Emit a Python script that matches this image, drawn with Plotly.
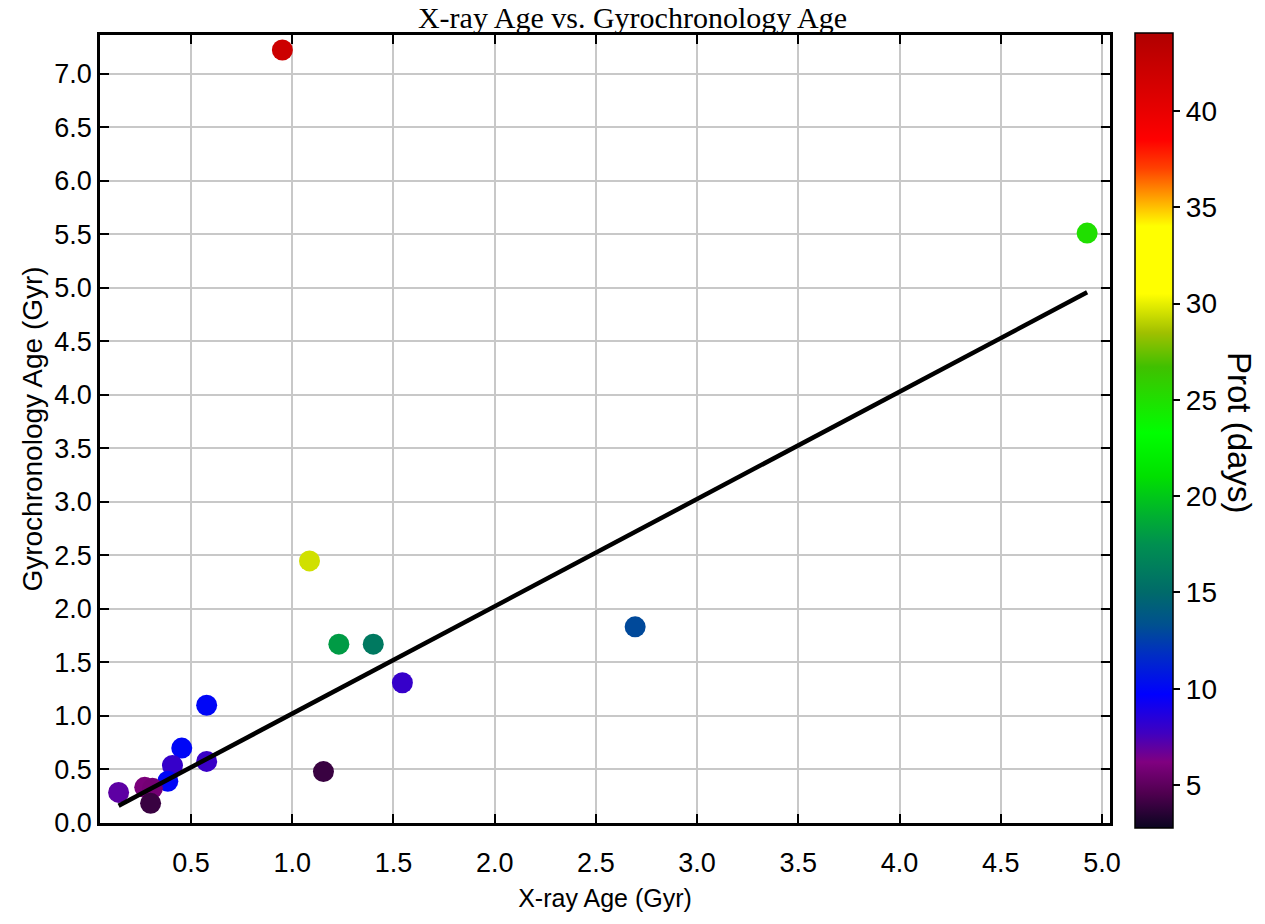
import plotly.graph_objects as go

xray_age = [0.951, 4.927, 1.085, 1.23, 1.40, 2.694, 1.544, 0.577, 1.154, 0.454,
            0.577, 0.408, 0.385, 0.142, 0.271, 0.309, 0.30]
gyro_age = [7.22, 5.51, 2.448, 1.67, 1.67, 1.832, 1.31, 1.10, 0.48, 0.70,
            0.575, 0.538, 0.39, 0.286, 0.333, 0.324, 0.184]
prot = [42.0, 25.0, 29.5, 18.0, 16.0, 13.0, 8.0, 10.0, 4.0, 10.0,
        7.9, 8.0, 10.0, 7.0, 6.0, 5.8, 4.0]

line_x = [min(xray_age), max(xray_age)]
line_y = [min(xray_age) + 0.02, max(xray_age) + 0.03]

y_ticks = [i * 0.5 for i in range(15)]
x_ticks = [0.5 * i for i in range(1, 11)]
cb_ticks = [5, 10, 15, 20, 25, 30, 35, 40]

cmin, cmax = 2.77, 44.05
colorscale = [
    [0.0, "#0a0520"], [0.044, "#500050"], [0.083, "#800080"], [0.119, "#4000c0"],
    [0.168, "#0000ff"], [0.221, "#0030c0"], [0.255, "#005090"], [0.296, "#006a6a"],
    [0.357, "#009050"], [0.393, "#00b030"], [0.442, "#00e000"], [0.497, "#00ff00"],
    [0.58, "#40c000"], [0.623, "#a0c000"], [0.672, "#ffff00"], [0.757, "#ffff00"],
    [0.793, "#ffa000"], [0.83, "#ff4000"], [0.866, "#ff0000"], [0.902, "#e80000"],
    [1.0, "#b00000"],
]

X_RANGE = [0.05, 5.04]
Y_RANGE = [0.0, 7.36]

# plot area in pixels: x 100..1110, y 35..823
PW, PH = 1010, 788

fig = go.Figure()
fig.add_trace(go.Scatter(
    x=line_x, y=line_y, mode="lines", xaxis="x2",
    line=dict(color="black", width=4.5), showlegend=False, hoverinfo="skip",
))
fig.add_trace(go.Scatter(
    x=xray_age, y=gyro_age, mode="markers", showlegend=False,
    marker=dict(
        size=21, color=prot, colorscale=colorscale, cmin=cmin, cmax=cmax,
        line=dict(width=0), opacity=1,
        colorbar=dict(
            xref="paper", x=(1135 - 100) / PW, xanchor="left", xpad=0,
            yref="paper", y=(823 - 828) / PH, yanchor="bottom", ypad=0,
            thickness=38, thicknessmode="pixels",
            len=795 / PH, lenmode="fraction",
            outlinewidth=1.5, outlinecolor="black",
            tickvals=cb_ticks, ticks="outside", ticklen=7, tickwidth=2, tickcolor="black",
            tickfont=dict(family="Liberation Sans", size=28, color="black"),
            title=dict(text=""),
        ),
    ),
))

fig.update_layout(
    width=1265, height=924,
    margin=dict(l=100, r=155, t=35, b=101),
    paper_bgcolor="white", plot_bgcolor="white",
    title=dict(text="X-ray Age vs. Gyrochronology Age", x=0.5, xref="container",
               xanchor="center", y=1 - 17 / 924, yanchor="middle",
               font=dict(family="Liberation Serif", size=30, color="black")),
    xaxis=dict(
        range=X_RANGE, tickvals=x_ticks, tickformat=".1f",
        showgrid=True, gridcolor="#c8c8c8", gridwidth=2,
        showline=False, zeroline=False,
        ticks="outside", ticklen=16, tickcolor="rgba(0,0,0,0)",
        tickfont=dict(family="Liberation Sans", size=27, color="black"),
        title=dict(text="X-ray Age (Gyr)", standoff=12,
                   font=dict(family="Liberation Sans", size=25, color="black")),
    ),
    xaxis2=dict(
        range=X_RANGE, tickvals=x_ticks, overlaying="x", anchor="y", side="bottom",
        showgrid=False, zeroline=False, showticklabels=False,
        showline=True, linecolor="black", linewidth=2.5, mirror="ticks",
        ticks="inside", ticklen=9, tickwidth=2, tickcolor="black",
    ),
    yaxis=dict(
        range=Y_RANGE, tickvals=y_ticks, tickformat=".1f",
        showgrid=True, gridcolor="#c8c8c8", gridwidth=2,
        showline=True, linecolor="black", linewidth=2.5, mirror="ticks",
        ticks="inside", ticklen=9, tickwidth=2, tickcolor="black",
        zeroline=False,
        tickfont=dict(family="Liberation Sans", size=27, color="black"),
        title=dict(text="Gyrochronology Age (Gyr)", standoff=4,
                   font=dict(family="Liberation Sans", size=28, color="black")),
    ),
    annotations=[dict(
        text="Prot (days)", xref="paper", yref="paper",
        x=(1240 - 100) / PW, y=(823 - 432) / PH,
        showarrow=False, textangle=90, xanchor="center", yanchor="middle",
        font=dict(family="Liberation Sans", size=33, color="black"),
    )],
)

fig.write_html("out.html")
